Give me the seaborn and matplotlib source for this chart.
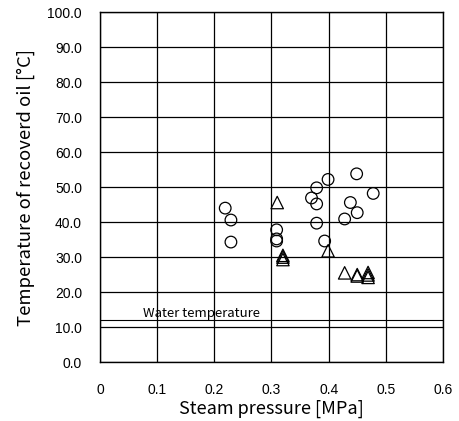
import matplotlib
matplotlib.use("Agg")
import matplotlib.pyplot as plt
import seaborn as sns
import pandas as pd

# Recovered oil temperature vs. steam pressure
circle_pressure = [0.219, 0.229, 0.229, 0.309, 0.309, 0.309, 0.379, 0.370, 0.379,
                   0.379, 0.399, 0.393, 0.449, 0.478, 0.438, 0.450, 0.428]
circle_temp = [44.0, 40.6, 34.3, 37.8, 35.2, 34.6, 49.8, 46.9, 45.2,
               39.7, 52.2, 34.6, 53.8, 48.2, 45.6, 42.7, 40.9]

triangle_pressure = [0.310, 0.320, 0.320, 0.320, 0.399, 0.428, 0.450, 0.450,
                     0.469, 0.469, 0.469]
triangle_temp = [45.6, 30.5, 30.0, 29.3, 31.8, 25.5, 25.0, 24.6, 25.6, 24.9, 24.2]

water_temp = 12.0

x_ticks = [0, 0.1, 0.2, 0.3, 0.4, 0.5, 0.6]
x_tick_labels = ["0", "0.1", "0.2", "0.3", "0.4", "0.5", "0.6"]
y_ticks = [0, 10, 20, 30, 40, 50, 60, 70, 80, 90, 100]

df_c = pd.DataFrame({"p": circle_pressure, "t": circle_temp})
df_t = pd.DataFrame({"p": triangle_pressure, "t": triangle_temp})

sns.set_style("white")
plt.rcParams["font.family"] = ["Liberation Sans", "DejaVu Sans"]
plt.rcParams["text.color"] = "black"
plt.rcParams["axes.labelcolor"] = "black"
jp = ["Noto Sans CJK JP", "DejaVu Sans"]

fig = plt.figure(figsize=(4.59, 4.21), dpi=100)
ax = fig.add_axes([0.218, 0.140, 0.747, 0.831])

sns.scatterplot(data=df_c, x="p", y="t", marker="o", s=70, ax=ax,
                facecolor="none", edgecolor="black", linewidth=0.9, zorder=3)
sns.scatterplot(data=df_t, x="p", y="t", marker="^", s=80, ax=ax,
                facecolor="none", edgecolor="black", linewidth=0.9, zorder=3)
for coll in ax.collections:
    coll.set_facecolor("none")
    coll.set_edgecolor("black")

ax.set_xlim(0, 0.6)
ax.set_ylim(0, 100)
ax.set_xticks(x_ticks)
ax.set_xticklabels(x_tick_labels)
ax.set_yticks(y_ticks)
ax.set_yticklabels([f"{v:.1f}" for v in y_ticks])
ax.tick_params(length=0, labelsize=10, colors="black")
ax.tick_params(axis="x", pad=15)
ax.tick_params(axis="y", pad=13)

ax.grid(True, color="black", linewidth=0.9)
ax.set_axisbelow(True)
for sp in ax.spines.values():
    sp.set_color("black")
    sp.set_linewidth(1.0)

ax.axhline(water_temp, color="black", linewidth=0.8, zorder=2)
ax.text(0.075, water_temp + 1.0, "Water temperature", fontsize=9.5,
        family=jp, va="baseline", ha="left", color="black")

ax.set_xlabel("Steam pressure [MPa]", fontsize=13, family=jp, labelpad=2,
              color="black")
ax.set_ylabel("Temperature of recoverd oil [°C]", fontsize=13.3, family=jp,
              labelpad=9, color="black")

fig.savefig("out.png", dpi=100)
